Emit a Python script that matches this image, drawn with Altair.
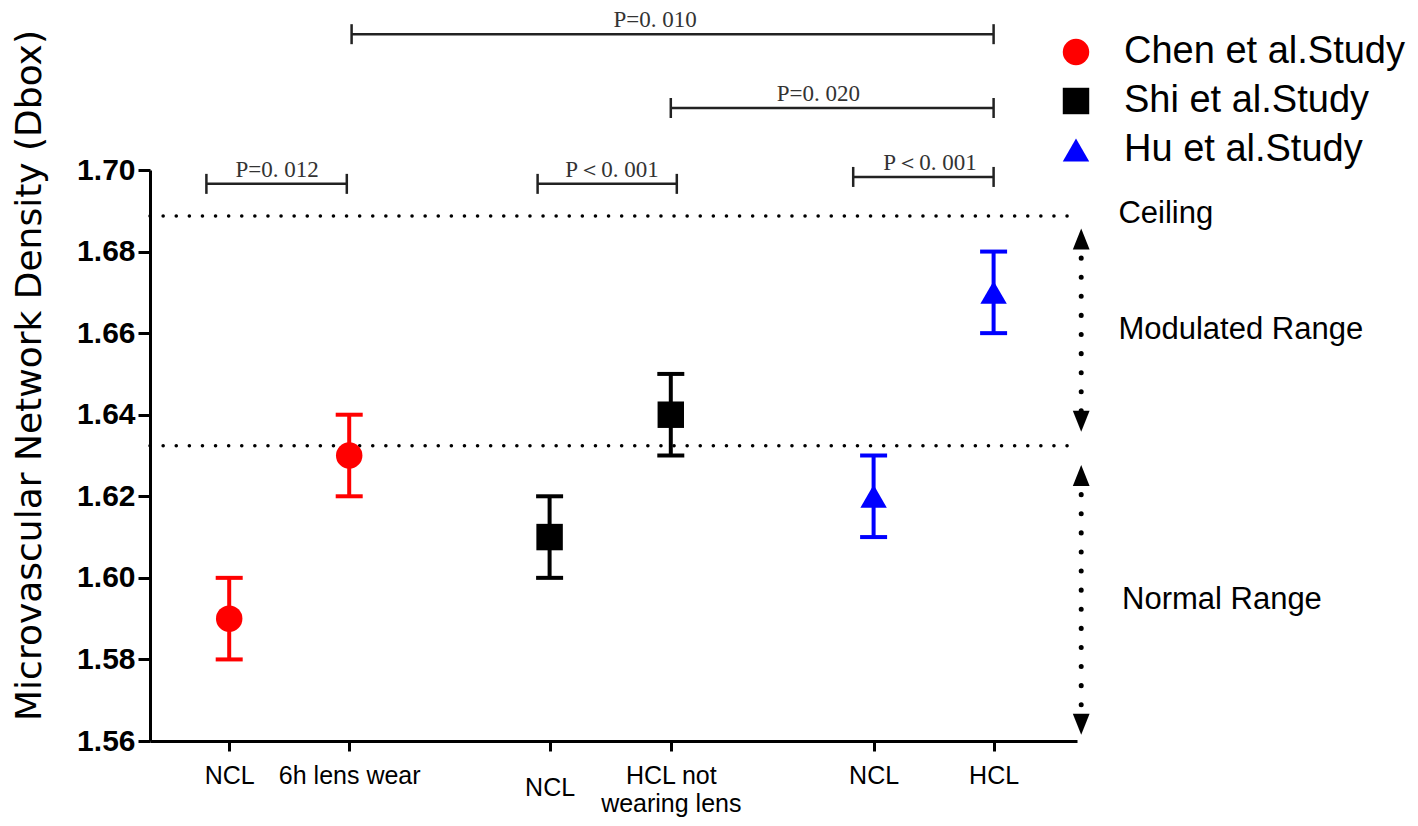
import altair as alt
import pandas as pd

# ---------------- data ----------------
studies = ["Chen et al.Study", "Chen et al.Study", "Shi et al.Study",
           "Shi et al.Study", "Hu et al.Study", "Hu et al.Study"]
conditions = ["NCL", "6h lens wear", "NCL", "HCL not|wearing lens", "NCL", "HCL"]
x_pos = [0.66, 1.66, 3.33, 4.34, 6.03, 7.03]
means = [1.59, 1.63, 1.61, 1.64, 1.62, 1.67]
lows = [1.58, 1.62, 1.60, 1.63, 1.61, 1.66]
highs = [1.60, 1.64, 1.62, 1.65, 1.63, 1.68]

study_names = ["Chen et al.Study", "Shi et al.Study", "Hu et al.Study"]
study_colors = ["#ff0000", "#000000", "#0000ff"]
study_shapes = ["circle", "square", "triangle-up"]

y_ticks = [1.56, 1.58, 1.60, 1.62, 1.64, 1.66, 1.68, 1.70]

# significance brackets
br_x1 = [1.68, 4.34, 0.47, 3.23, 5.86]
br_x2 = [7.03, 7.03, 1.64, 4.39, 7.03]
br_y = [1.7333, 1.7152, 1.6966, 1.6966, 1.6983]
br_text = ["P=0. 010", "P=0. 020", "P=0. 012", "P\uff1c0. 001", "P\uff1c0. 001"]
br_text_x = [4.21, 5.57, 1.06, 3.85, 6.50]

# dotted reference levels
ref_y = [1.6887, 1.6324]
ref_x1 = [0.0, 0.0]
ref_x2 = [7.725, 7.725]

# range arrows
arrow_x = [7.76, 7.76]
arrow_top = [1.6831, 1.6251]
arrow_bot = [1.6384, 1.5641]

region_text = ["Ceiling", "Modulated Range", "Normal Range"]
region_x = [8.07, 8.07, 8.10]
region_y = [1.6892, 1.6608, 1.5946]

# ---------------- tables ----------------
df = pd.DataFrame({"study": studies, "cond": conditions, "x": x_pos,
                   "mean": means, "lo": lows, "hi": highs})
br = pd.DataFrame({"x1": br_x1, "x2": br_x2, "y": br_y,
                   "label": br_text, "lx": br_text_x})
ref = pd.DataFrame({"x1": ref_x1, "x2": ref_x2, "y": ref_y})
arr = pd.DataFrame({"x": arrow_x, "top": arrow_top, "bot": arrow_bot})
reg = pd.DataFrame({"x": region_x, "y": region_y, "label": region_text})

# ---------------- scales / axes ----------------
parts = []
for p, c in zip(x_pos, conditions):
    if "|" in c:
        a, b = c.split("|")
        lab = "['%s','%s']" % (a, b)
    else:
        lab = "'%s'" % c
    parts.append("datum.value == %s ? %s : " % (p, lab))
label_expr = "".join(parts) + "''"

xscale = alt.Scale(domain=[0, 7.725], nice=False, zero=False)
yscale = alt.Scale(domain=[1.56, 1.70], nice=False, zero=False)

xaxis = alt.Axis(values=x_pos, labelExpr=label_expr, title=None, grid=False,
                 tickSize=10, tickWidth=3, domainWidth=3, domainColor="black",
                 tickColor="black", labelFont="Liberation Sans", labelFontSize=25,
                 labelColor="black",
                 labelPadding={"condition": {"test": "datum.value == 3.33", "value": 24},
                               "value": 12},
                 labelLineHeight=28, labelBaseline="top", labelFlush=False,
                 labelOverlap=False)
yaxis = alt.Axis(values=y_ticks, format=".2f", grid=False,
                 title="Microvascular Network Density (Dbox)",
                 titleFont="DejaVu Sans", titleFontSize=36, titleFontWeight="normal",
                 titleColor="black", titleX=-121, titleY=205, titleAngle=270,
                 titleAlign="center", titleBaseline="middle",
                 labelFont="Liberation Sans", labelFontSize=30, labelFontWeight="bold",
                 labelColor="black", labelPadding=3,
                 tickSize=12, tickWidth=3, tickColor="black",
                 domainWidth=3, domainColor="black")


def X(f):
    return alt.X(f, type="quantitative", scale=xscale, axis=xaxis)


def Y(f):
    return alt.Y(f, type="quantitative", scale=yscale, axis=yaxis)


legend = alt.Legend(orient="none", legendX=907, legendY=-137, title=None,
                    labelFont="Liberation Sans", labelFontSize=38, labelColor="black",
                    symbolSize=700, rowPadding=11, labelOffset=29, labelLimit=600,
                    padding=0, symbolStrokeWidth=0)
color = alt.Color("study:N", scale=alt.Scale(domain=study_names, range=study_colors),
                  legend=legend)
shape = alt.Shape("study:N", scale=alt.Scale(domain=study_names, range=study_shapes),
                  legend=legend)

# ---------------- layers ----------------
refs = alt.Chart(ref).mark_rule(strokeDash=[0.1, 13], strokeCap="round",
                                strokeWidth=3.5, color="black").encode(
    x=X("x1"), x2="x2", y=Y("y"))

arrows = alt.Chart(arr).mark_rule(strokeDash=[0.1, 19], strokeCap="round",
                                  strokeWidth=5, color="black").encode(
    x=X("x"), y=Y("top"), y2="bot")
heads_up = alt.Chart(arr).mark_point(shape="M0,-1L0.8,1L-0.8,1Z", filled=True,
                                     size=440, color="black", opacity=1).encode(
    x=X("x"), y=Y("top"))
heads_dn = alt.Chart(arr).mark_point(shape="M0,1L0.8,-1L-0.8,-1Z", filled=True,
                                     size=440, color="black", opacity=1).encode(
    x=X("x"), y=Y("bot"))

err = alt.Chart(df).mark_rule(strokeWidth=4).encode(
    x=X("x"), y=Y("lo"), y2="hi", color=color)
cap_lo = alt.Chart(df).mark_point(shape="stroke", size=729, strokeWidth=4,
                                  opacity=1).encode(x=X("x"), y=Y("lo"), color=color)
cap_hi = alt.Chart(df).mark_point(shape="stroke", size=729, strokeWidth=4,
                                  opacity=1).encode(x=X("x"), y=Y("hi"), color=color)
pts = alt.Chart(df).mark_point(filled=True, size=700, opacity=1).encode(
    x=X("x"), y=Y("mean"), color=color, shape=shape)

br_line = alt.Chart(br).mark_rule(strokeWidth=2.5, color="#222").encode(
    x=X("x1"), x2="x2", y=Y("y"))
br_e1 = alt.Chart(br).mark_point(shape="stroke", angle=90, size=400, strokeWidth=2.5,
                                 color="#222", opacity=1).encode(x=X("x1"), y=Y("y"))
br_e2 = alt.Chart(br).mark_point(shape="stroke", angle=90, size=400, strokeWidth=2.5,
                                 color="#222", opacity=1).encode(x=X("x2"), y=Y("y"))
br_lab = alt.Chart(br).mark_text(font="Liberation Serif", fontSize=23, color="#333",
                                 baseline="bottom", dy=-2).encode(
    x=X("lx"), y=Y("y"), text="label:N")

reg_lab = alt.Chart(reg).mark_text(font="Liberation Sans", fontSize=31, align="left",
                                   baseline="middle", color="black").encode(
    x=X("x"), y=Y("y"), text="label:N")

chart = alt.layer(refs, arrows, heads_up, heads_dn, br_line, br_e1, br_e2, br_lab,
                  reg_lab, err, cap_lo, cap_hi, pts).properties(
    width=927, height=571,
    autosize=alt.AutoSizeParams(type="none"),
    padding={"left": 142, "top": 162, "right": 333, "bottom": 77},
    background="white",
).configure_view(stroke=None)

chart.save("out.html", embed_options={"renderer": "svg", "actions": False})
